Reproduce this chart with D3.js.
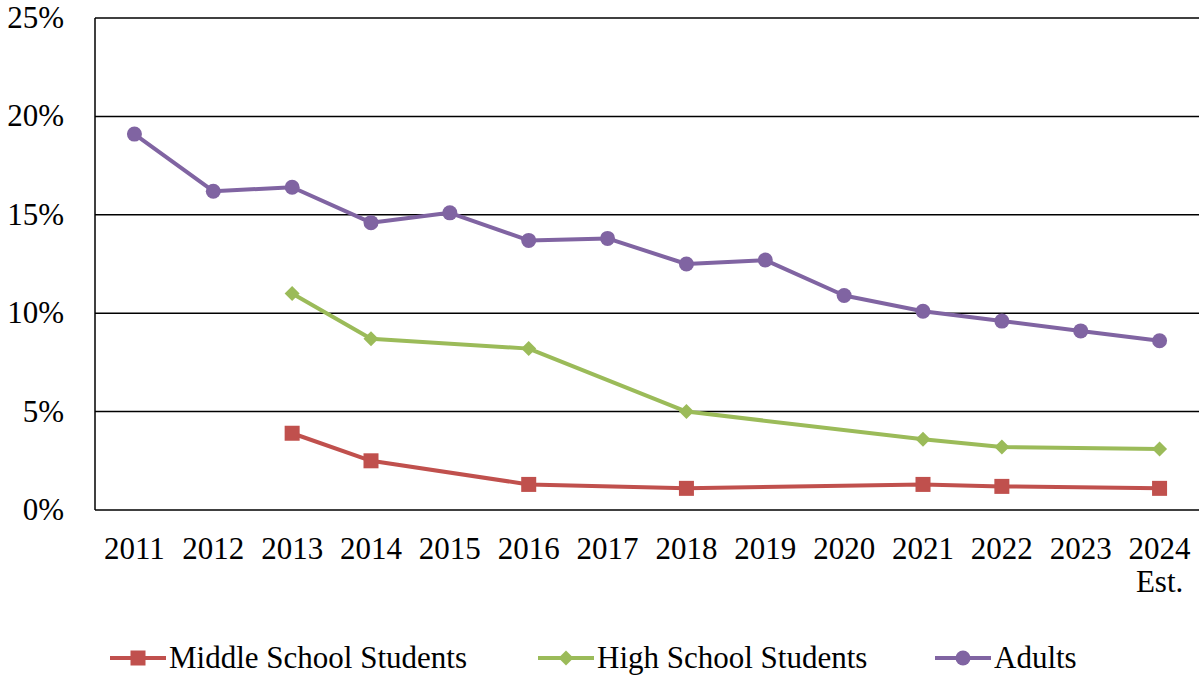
<!DOCTYPE html>
<html><head><meta charset="utf-8">
<script src="https://cdn.jsdelivr.net/npm/d3@7"></script>
<style>
html,body{margin:0;background:#fff}
svg text{font-family:"Liberation Serif","Times New Roman",Tinos,serif}
</style>
</head><body>
<svg id="c" width="1199" height="676"></svg>
<script>
const years = ["2011","2012","2013","2014","2015","2016","2017","2018","2019","2020","2021","2022","2023","2024"];
const middleSchool = [null,null,3.9,2.5,null,1.3,null,1.1,null,null,1.3,1.2,null,1.1];
const highSchool = [null,null,11.0,8.7,null,8.2,null,5.0,null,null,3.6,3.2,null,3.1];
const adults = [19.1,16.2,16.4,14.6,15.1,13.7,13.8,12.5,12.7,10.9,10.1,9.6,9.1,8.6];
const yTicks = [0,5,10,15,20,25];
const seriesNames = ["Middle School Students","High School Students","Adults"];
const colors = ["#C0504D","#9BBB59","#8064A2"];
const markers = ["square","diamond","circle"];

const FONT = '"Liberation Serif", "Times New Roman", Tinos, serif';
const FS = 31;
const svg = d3.select("#c");
const x = d3.scaleBand().domain(years).range([95,1199]);
const y = d3.scaleLinear().domain([0,25]).range([510,18]);
const cx = d => x(d) + x.bandwidth()/2;

function txt(sel){ return sel.attr("font-size",FS).attr("fill","#000").style("font-family",FONT); }

svg.append("g").selectAll("line").data(yTicks.filter(t=>t>0)).join("line")
  .attr("x1",95).attr("x2",1199).attr("y1",d=>y(d)).attr("y2",d=>y(d))
  .attr("stroke","#000").attr("stroke-width",1.5);
svg.append("line").attr("x1",95).attr("x2",95).attr("y1",y(25)).attr("y2",y(0)).attr("stroke","#000").attr("stroke-width",1.5);
svg.append("line").attr("x1",95).attr("x2",1199).attr("y1",y(0)).attr("y2",y(0)).attr("stroke","#000").attr("stroke-width",1.5);

txt(svg.append("g").selectAll("text").data(yTicks).join("text")
  .attr("x",64).attr("y",d=>y(d)+10).attr("text-anchor","end"))
  .text(d=>d+"%");
txt(svg.append("g").selectAll("text").data(years).join("text")
  .attr("x",d=>cx(d)).attr("y",559).attr("text-anchor","middle"))
  .text(d=>d);
txt(svg.append("text").attr("x",cx("2024")).attr("y",592).attr("text-anchor","middle")).text("Est.");

function marker(g, type, px, py, color, s){
  if(type==="square") g.append("rect").attr("x",px-s/2).attr("y",py-s/2).attr("width",s).attr("height",s).attr("fill",color);
  else if(type==="diamond") g.append("path").attr("d",`M${px},${py-s/2}L${px+s/2},${py}L${px},${py+s/2}L${px-s/2},${py}Z`).attr("fill",color);
  else g.append("circle").attr("cx",px).attr("cy",py).attr("r",s/2).attr("fill",color);
}
const sizes = [15,15,15];
[middleSchool,highSchool,adults].forEach((vals,i)=>{
  const pts = years.map((yr,j)=>({yr,v:vals[j]})).filter(d=>d.v!==null);
  const line = d3.line().x(d=>cx(d.yr)).y(d=>y(d.v));
  svg.append("path").datum(pts).attr("d",line).attr("fill","none").attr("stroke",colors[i]).attr("stroke-width",4).attr("stroke-linejoin","round");
  const g = svg.append("g");
  pts.forEach(d=>marker(g,markers[i],cx(d.yr),y(d.v),colors[i],sizes[i]));
});

const legX = [110,538,935];
seriesNames.forEach((n,i)=>{
  const g = svg.append("g");
  g.append("line").attr("x1",legX[i]).attr("x2",legX[i]+56).attr("y1",658).attr("y2",658).attr("stroke",colors[i]).attr("stroke-width",4);
  marker(g,markers[i],legX[i]+28,658,colors[i],sizes[i]);
  txt(g.append("text").attr("x",legX[i]+59).attr("y",668)).text(n);
});
</script>
</body></html>
